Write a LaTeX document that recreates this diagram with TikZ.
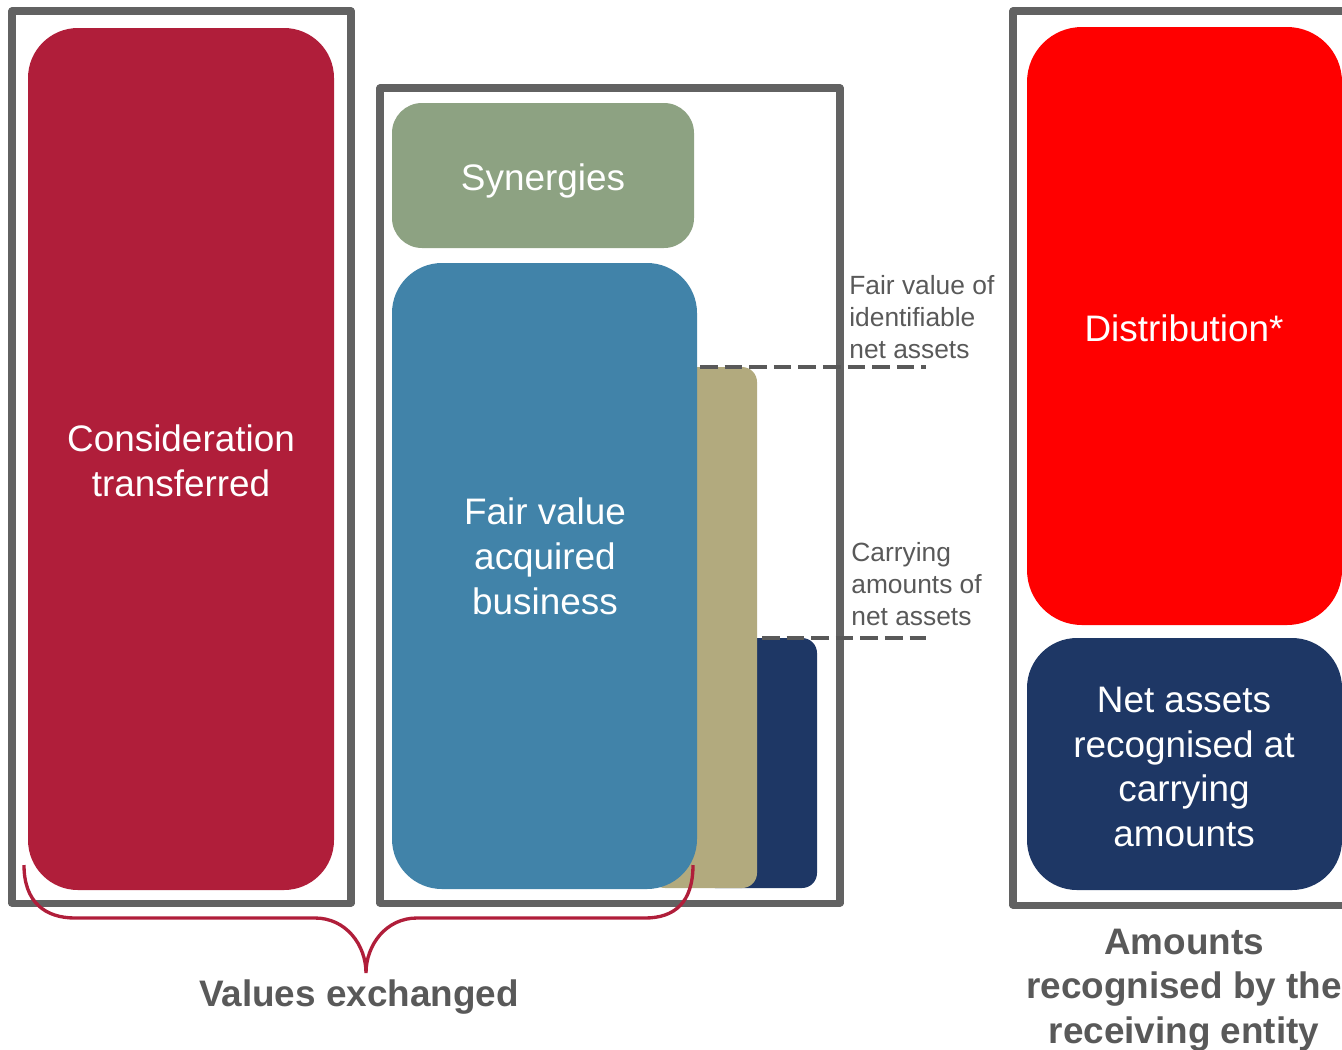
\documentclass[tikz,border=0pt]{standalone}
\usepackage{fontspec}
\setmainfont{Liberation Sans}
\usepackage{tikz}

\definecolor{crimson}{RGB}{176,30,58}
\definecolor{fvblue}{RGB}{65,131,169}
\definecolor{synergy}{RGB}{141,162,130}
\definecolor{tan}{RGB}{178,170,126}
\definecolor{navy}{RGB}{30,55,101}
\definecolor{frame}{RGB}{98,98,98}
\definecolor{lbl}{RGB}{89,89,89}

\begin{document}
\begin{tikzpicture}[x=0.02cm, y=-0.02cm,
	frm/.style={draw=frame, line width=4pt, line join=round},
	big/.style={text=white, align=center, inner sep=0pt, font=\fontsize{21}{25.5}\selectfont},
	small/.style={text=lbl, align=left, anchor=west, inner sep=0pt, font=\fontsize{15}{18}\selectfont},
	caption/.style={text=lbl, align=center, inner sep=0pt, font=\bfseries\fontsize{21}{25.5}\selectfont},
	level/.style={draw=lbl, line width=2.3pt, dash pattern=on 10pt off 4pt}]
	\clip (0,0) rectangle (1342,1049);
	%\draw[help lines] (0,0) grid[step=100] (1342,1049);
	% frames
	\draw[frm] (12,11) rectangle (351,903);
	\draw[frm] (380,88) rectangle (840,903);
	\draw[frm] (1013,11) rectangle (1360,905);
	% values exchanged
	\fill[crimson, rounded corners=1cm] (28,28) rectangle (334,890);
	\fill[synergy, rounded corners=0.6cm] (392,103) rectangle (694,248);
	\fill[navy, rounded corners=0.3cm] (700,638) rectangle (817,888);
	\fill[tan, rounded corners=0.3cm] (650,367) rectangle (757,888);
	\fill[fvblue, rounded corners=1cm] (392,263) rectangle (697,889);
	% receiving entity
	\fill[red, rounded corners=1.1cm] (1027,27) rectangle (1342,625);
	\fill[navy, rounded corners=1cm] (1027,638) rectangle (1342,890);
	% texts
	\node[big] (consid) at (181,461) {Consideration\\transferred};
	\node[big] (syn) at (543,181) {Synergies};
	\node[big] (fvab) at (545,556) {Fair value\\acquired\\business};
	\node[big] (distr) at (1184,328) {Distribution*};
	\node[big] (netca) at (1184,767) {Net assets\\recognised at\\carrying\\amounts};
	\node[small] (fvlbl) at (849,317) {Fair value of\\identifiable\\net assets};
	\node[small] (calbl) at (851,584) {Carrying\\amounts of\\net assets};
	% levels
	\coordinate (fvl) at (700,367);
	\coordinate (fvr) at (926,367);
	\coordinate (cal) at (762,638);
	\coordinate (car) at (926,638);
	\draw[level] (fvl) -- (fvr);
	\draw[level] (cal) -- (car);
	% brace
	\coordinate (bl) at (24,865);
	\coordinate (btip) at (366,973);
	\coordinate (br) at (693,865);
	\draw[crimson, line width=1.9pt] (bl) .. controls (24,902) and (45,918) .. (75,918)
		-- (315,918) .. controls (346,918) and (366,945) .. (btip)
		.. controls (366,945) and (386,918) .. (417,918)
		-- (645,918) .. controls (675,918) and (693,902) .. (br);
	\node[caption] (valex) at (359,997) {Values exchanged};
	\node[caption] (amrec) at (1184,990) {Amounts\\recognised by the\\receiving entity};
\end{tikzpicture}
\end{document}
